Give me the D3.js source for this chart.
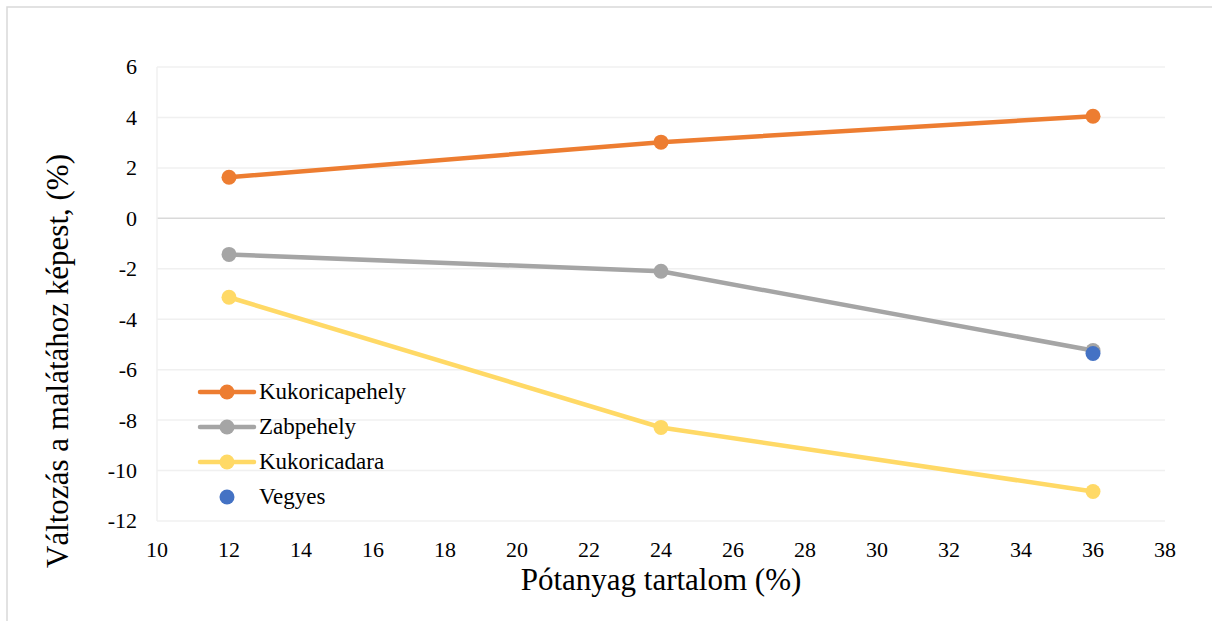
<!DOCTYPE html>
<html>
<head>
<meta charset="utf-8">
<script src="https://cdn.jsdelivr.net/npm/d3@7"></script>
<style>
  body { margin: 0; background: #fff; }
  svg { display: block; }
  text { font-family: "Liberation Serif", "DejaVu Serif", serif; fill: #000; }
</style>
</head>
<body>
<svg id="chart" width="1212" height="621"></svg>
<script>
// data
var xValues = [12, 24, 36];
var kukoricapehely = [1.63, 3.02, 4.05];
var zabpehely = [-1.43, -2.1, -5.24];
var kukoricadara = [-3.13, -8.29, -10.83];
var vegyesX = [36];
var vegyes = [-5.36];

var seriesNames = ["Kukoricapehely", "Zabpehely", "Kukoricadara", "Vegyes"];
var xTicks = [10, 12, 14, 16, 18, 20, 22, 24, 26, 28, 30, 32, 34, 36, 38];
var yTicks = [-12, -10, -8, -6, -4, -2, 0, 2, 4, 6];

var colors = {
  Kukoricapehely: "#ED7D31",
  Zabpehely: "#A5A5A5",
  Kukoricadara: "#FFD966",
  Vegyes: "#4472C4"
};

var serif = "Liberation Serif, DejaVu Serif, serif";

var svg = d3.select("#chart").attr("font-family", serif);

// chart area border (only left/top visible in the frame)
svg.append("rect")
  .attr("x", 7).attr("y", 7)
  .attr("width", 1230).attr("height", 640)
  .attr("fill", "none")
  .attr("stroke", "#d9d9d9")
  .attr("stroke-width", 1.5);

// plot box
var plotL = 157, plotR = 1165, plotT = 67, plotB = 521;

var x = d3.scaleLinear().domain([10, 38]).range([plotL, plotR]);
var y = d3.scaleLinear().domain([-12, 6]).range([plotB, plotT]);

// horizontal gridlines
svg.append("g")
  .selectAll("line")
  .data(yTicks)
  .enter().append("line")
  .attr("x1", plotL).attr("x2", plotR)
  .attr("y1", function(d){ return y(d); })
  .attr("y2", function(d){ return y(d); })
  .attr("stroke", function(d){ return d === 0 ? "#d9d9d9" : "#f0f0f0"; })
  .attr("stroke-width", 1.5);

// left edge of plot
svg.append("line")
  .attr("x1", plotL).attr("x2", plotL)
  .attr("y1", plotT).attr("y2", plotB)
  .attr("stroke", "#f0f0f0")
  .attr("stroke-width", 1.5);

// y tick labels
svg.append("g")
  .selectAll("text")
  .data(yTicks)
  .enter().append("text")
  .attr("x", 137)
  .attr("y", function(d){ return y(d); })
  .attr("dy", "0.34em")
  .attr("text-anchor", "end")
  .attr("font-family", serif)
  .attr("font-size", 22)
  .text(function(d){ return d; });

// x tick labels
svg.append("g")
  .selectAll("text")
  .data(xTicks)
  .enter().append("text")
  .attr("x", function(d){ return x(d); })
  .attr("y", 557)
  .attr("text-anchor", "middle")
  .attr("font-family", serif)
  .attr("font-size", 22)
  .text(function(d){ return d; });

// axis titles
svg.append("text")
  .attr("x", x(24))
  .attr("y", 590)
  .attr("text-anchor", "middle")
  .attr("font-family", serif)
  .attr("font-size", 31)
  .text("Pótanyag tartalom (%)");

svg.append("text")
  .attr("transform", "translate(68,361) rotate(-90)")
  .attr("text-anchor", "middle")
  .attr("font-family", serif)
  .attr("font-size", 31)
  .text("Változás a malátához képest, (%)");

// series lines + markers
var lineSeries = [
  { name: "Kukoricapehely", values: kukoricapehely },
  { name: "Zabpehely", values: zabpehely },
  { name: "Kukoricadara", values: kukoricadara }
];

var line = d3.line()
  .x(function(d){ return x(d[0]); })
  .y(function(d){ return y(d[1]); });

lineSeries.forEach(function(s){
  var pts = xValues.map(function(v, i){ return [v, s.values[i]]; });
  svg.append("path")
    .datum(pts)
    .attr("d", line)
    .attr("fill", "none")
    .attr("stroke", colors[s.name])
    .attr("stroke-width", 4.5)
    .attr("stroke-linecap", "round");
  svg.append("g")
    .selectAll("circle")
    .data(pts)
    .enter().append("circle")
    .attr("cx", function(d){ return x(d[0]); })
    .attr("cy", function(d){ return y(d[1]); })
    .attr("r", 7.5)
    .attr("fill", colors[s.name]);
});

// Vegyes: marker only
svg.append("g")
  .selectAll("circle")
  .data(vegyesX.map(function(v, i){ return [v, vegyes[i]]; }))
  .enter().append("circle")
  .attr("cx", function(d){ return x(d[0]); })
  .attr("cy", function(d){ return y(d[1]); })
  .attr("r", 7.5)
  .attr("fill", colors.Vegyes);

// legend
var legend = svg.append("g").attr("transform", "translate(200,392)");
seriesNames.forEach(function(name, i){
  var row = legend.append("g").attr("transform", "translate(0," + (i * 35) + ")");
  if (name !== "Vegyes") {
    row.append("line")
      .attr("x1", 0).attr("x2", 54)
      .attr("y1", 0).attr("y2", 0)
      .attr("stroke", colors[name])
      .attr("stroke-width", 4.5)
      .attr("stroke-linecap", "round");
  }
  row.append("circle")
    .attr("cx", 27).attr("cy", 0)
    .attr("r", 7.5)
    .attr("fill", colors[name]);
  row.append("text")
    .attr("x", 59)
    .attr("y", 0)
    .attr("dy", "0.32em")
    .attr("font-family", serif)
    .attr("font-size", 23)
    .text(name);
});
</script>
</body>
</html>
